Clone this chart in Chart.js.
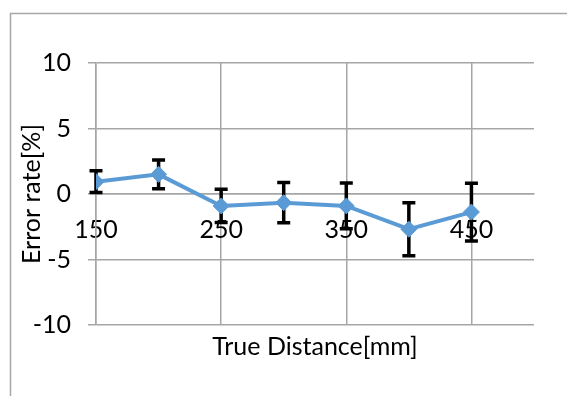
<!DOCTYPE html>
<html>
<head>
<meta charset="utf-8">
<script src="https://cdn.jsdelivr.net/npm/chart.js@4.4.0/dist/chart.umd.min.js"></script>
<style>
  html, body { margin: 0; padding: 0; background: #fff; }
  #wrap { width: 567px; height: 396px; }
</style>
</head>
<body>
<div id="wrap"><canvas id="grafikon" width="567" height="396"></canvas></div>
<script>
// true distance [mm]
var distances = [150, 200, 250, 300, 350, 400, 450];
// error rate [%]
var errorRates = [0.94, 1.5, -0.91, -0.66, -0.91, -2.69, -1.38];
// error bar half length [%]
var errorBars = [0.83, 1.1, 1.27, 1.54, 1.75, 2.02, 2.2];
var xTicks = [150, 250, 350, 450];

var points = [];
for (let i = 0; i < distances.length; i++) {
    points.push({x: distances[i], y: errorRates[i]});
}

var fontName = "Lato, 'Open Sans', sans-serif";

// frame of the chart area (left and top edge only visible)
var okvir = {
    id: 'okvir',
    beforeDraw: function (chart) {
        var ctx = chart.ctx;
        ctx.save();
        ctx.strokeStyle = '#a6a6a6';
        ctx.lineWidth = 1.5;
        ctx.beginPath();
        ctx.moveTo(10.5, chart.height);
        ctx.lineTo(10.5, 13.5);
        ctx.lineTo(chart.width, 13.5);
        ctx.stroke();
        ctx.restore();
    }
};

// black error bars with caps
var greske = {
    id: 'greske',
    beforeDatasetsDraw: function (chart) {
        var ctx = chart.ctx;
        var xs = chart.scales.x, ys = chart.scales.y;
        ctx.save();
        ctx.strokeStyle = '#000';
        ctx.lineWidth = 3.5;
        for (let i = 0; i < distances.length; i++) {
            var px = xs.getPixelForValue(distances[i]);
            var top = ys.getPixelForValue(errorRates[i] + errorBars[i]);
            var bot = ys.getPixelForValue(errorRates[i] - errorBars[i]);
            ctx.beginPath();
            ctx.moveTo(px, top);
            ctx.lineTo(px, bot);
            ctx.moveTo(px - 6.5, top);
            ctx.lineTo(px + 6.5, top);
            ctx.moveTo(px - 6.5, bot);
            ctx.lineTo(px + 6.5, bot);
            ctx.stroke();
        }
        ctx.restore();
    }
};

new Chart("grafikon", {
    type: "scatter",
    data: {
        datasets: [{
            data: points,
            showLine: true,
            borderColor: '#5b9bd5',
            backgroundColor: '#5b9bd5',
            borderWidth: 4,
            pointStyle: 'rectRot',
            pointRadius: 8,
            pointBorderWidth: 1,
            pointHoverRadius: 8
        }]
    },
    options: {
        responsive: false,
        animation: false,
        events: [],
        layout: {
            padding: {left: 0, top: 63, right: 33, bottom: 34}
        },
        plugins: {
            legend: {display: false},
            tooltip: {enabled: false},
            title: {
                display: true,
                position: 'bottom',
                fullSize: false,
                text: 'True Distance[mm]',
                color: '#000',
                font: {family: fontName, size: 25, weight: 'normal'},
                padding: {top: 7, bottom: 0}
            }
        },
        scales: {
            x: {
                type: 'linear',
                position: {y: 0},
                min: 150,
                max: 500,
                afterBuildTicks: function (scale) {
                    scale.ticks = xTicks.map(function (v) { return {value: v}; });
                },
                grid: {color: '#a6a6a6', lineWidth: 1.5, drawTicks: false},
                border: {color: '#a6a6a6', width: 1.5},
                ticks: {
                    color: '#000',
                    padding: 21,
                    font: {family: fontName, size: 25}
                }
            },
            y: {
                min: -10,
                max: 10,
                afterFit: function (scale) { scale.width = 96; },
                ticks: {
                    stepSize: 5,
                    color: '#000',
                    padding: 17,
                    font: {family: fontName, size: 25}
                },
                grid: {color: '#a6a6a6', lineWidth: 1.5, tickLength: 8},
                border: {color: '#a6a6a6', width: 1.5},
                title: {
                    display: true,
                    text: 'Error rate[%]',
                    color: '#000',
                    font: {family: fontName, size: 25},
                    padding: {top: 17, bottom: 0}
                }
            }
        }
    },
    plugins: [okvir, greske]
});
</script>
</body>
</html>
